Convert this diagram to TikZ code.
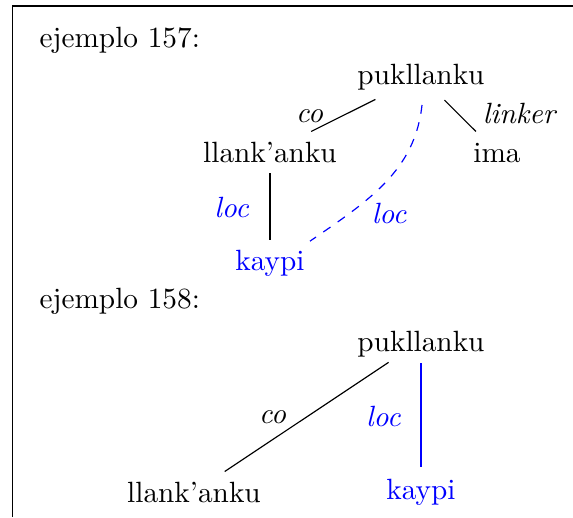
\documentclass[tikz,border=0pt]{standalone}
\usetikzlibrary{calc}
\begin{document}
\begin{tikzpicture}[x=0.34129pt,y=-0.34129pt,
  word/.style={inner sep=0pt,anchor=base},
  rel/.style={inner sep=0pt,anchor=base,font=\itshape},
  blu/.style={text=blue},
  edge/.style={draw=black,line width=0.4pt},
  frame/.style={draw=black,line width=0.4pt}]
\useasboundingbox (0,0) rectangle (573,517);
\draw[frame] (12.3,517) -- (12.3,6) -- (573,6);
% example 157
\node[word,anchor=base west] (t1) at (39,47) {ejemplo 157:};
\node[word] (P1) at (421,84) {pukllanku};
\node[word] (L1) at (270,162) {llank'anku};
\node[word] (I1) at (497,162) {ima};
\node[word,blu] (K1) at (270,270) {kaypi};
\node[rel] (co1) at (309.5,122) {co};
\node[rel] (lk1) at (519,123) {linker};
\node[rel,blu] (lo1) at (231.7,217) {loc};
\node[rel,blu] (lo2) at (389,223) {loc};
\draw[edge,shorten <=17.4pt,shorten >=15.7pt] (P1.center) -- (L1.center);
\draw[edge,shorten <=11.3pt,shorten >=10.2pt] (P1.center) -- (I1.center);
\draw[edge,shorten <=7.2pt,shorten >=7.8pt] (L1.center) -- (K1.center);
\draw[blue,dashed,line width=0.4pt] ([shift={(1,28.3)}]P1.center) .. controls (415,170) and (370,200) .. ([shift={(40,-21.7)}]K1.center);
% example 158
\node[word,anchor=base west] (t2) at (39,308.5) {ejemplo 158:};
\node[word] (P2) at (421,351) {pukllanku};
\node[word] (L2) at (194,502) {llank'anku};
\node[word,blu] (K2) at (421,499) {kaypi};
\node[rel] (co2) at (272.5,423.3) {co};
\node[rel,blu] (lo3) at (383.3,426) {loc};
\draw[edge,shorten <=13.3pt,shorten >=12.6pt] ([yshift=1pt]P2.center) -- (L2.center);
\draw[edge,draw=blue,shorten <=6.6pt,shorten >=8.4pt] (P2.center) -- (K2.center);
\end{tikzpicture}
\end{document}
